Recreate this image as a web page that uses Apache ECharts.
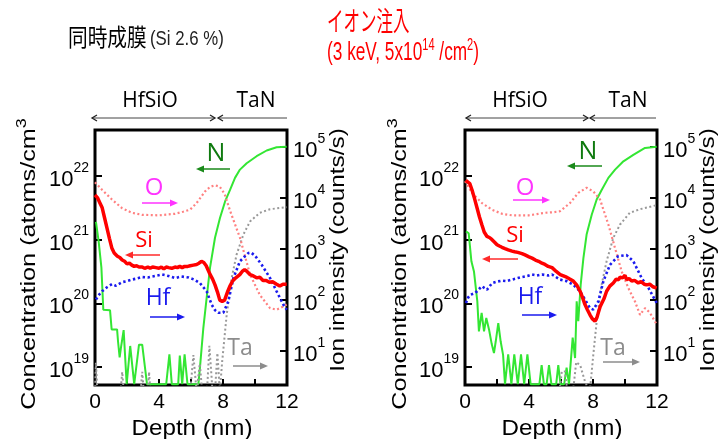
<!DOCTYPE html>
<html><head><meta charset="utf-8">
<script src="https://cdn.jsdelivr.net/npm/echarts@6/dist/echarts.min.js"></script>
<style>html,body{margin:0;padding:0;background:#fff}#c{width:720px;height:439px}</style>
</head><body><div id="c"></div>
<script>
// ---------- tick labels ----------
const depthLabels = [0, 4, 8, 12];              // nm
const depthTickMarks = [2, 4, 6, 8, 10];
const concExponents = [19, 20, 21, 22];          // log10(atoms/cm^3)
const ionExponents = [1, 2, 3, 4, 5];            // log10(counts/s)

// ---------- LEFT panel (同時成膜) : [depth nm, log10 value] ----------
const siLeft = [[0.0,21.70],[0.15,21.66],[0.3,21.58],[0.45,21.50],[0.6,21.34],[0.75,21.18],[0.9,21.02],[1.05,20.87],[1.2,20.79],[1.4,20.74],[1.55,20.72],[1.7,20.68],[1.85,20.66],[2.0,20.62],[2.15,20.63],[2.3,20.60],[2.45,20.58],[2.6,20.59],[2.75,20.57],[2.95,20.57],[3.1,20.55],[3.3,20.57],[3.45,20.55],[3.6,20.57],[3.8,20.56],[4.0,20.55],[4.15,20.57],[4.3,20.54],[4.45,20.57],[4.6,20.56],[4.8,20.55],[5.0,20.57],[5.15,20.56],[5.3,20.58],[5.45,20.56],[5.6,20.58],[5.8,20.58],[5.95,20.59],[6.15,20.60],[6.35,20.61],[6.5,20.63],[6.65,20.66],[6.8,20.64],[6.95,20.59],[7.2,20.45],[7.35,20.38],[7.5,20.29],[7.65,20.18],[7.8,20.05],[7.95,20.03],[8.1,20.05],[8.2,20.12],[8.3,20.19],[8.45,20.28],[8.6,20.35],[8.8,20.40],[9.05,20.45],[9.2,20.50],[9.35,20.53],[9.5,20.50],[9.7,20.45],[9.9,20.43],[10.1,20.40],[10.3,20.41],[10.5,20.36],[10.7,20.36],[10.9,20.33],[11.1,20.34],[11.35,20.30],[11.55,20.27],[11.75,20.30],[11.98,20.30]];
const nLeft = [[0.06,21.28],[0.23,20.97],[0.4,20.56],[0.52,19.90],[0.94,19.89],[1.04,19.59],[1.38,19.59],[1.44,19.40],[1.54,19.15],[1.62,19.30],[1.79,19.58],[1.98,18.73],[2.2,19.33],[2.45,18.73],[2.75,19.35],[2.95,19.35],[3.25,18.73],[4.45,18.73],[4.65,19.20],[4.8,18.73],[5.2,18.73],[5.3,19.18],[5.45,18.73],[5.6,19.20],[5.78,18.73],[6.46,18.73],[6.56,18.99],[6.77,19.61],[6.98,20.09],[7.19,20.56],[7.5,21.03],[7.81,21.34],[8.13,21.60],[8.44,21.78],[8.75,21.97],[9.06,22.10],[9.48,22.20],[10.1,22.31],[10.73,22.40],[11.35,22.45],[11.98,22.46]];
const oLeft = [[0.0,4.31],[0.06,4.29],[0.44,4.16],[1.06,3.97],[1.69,3.80],[2.31,3.71],[2.94,3.67],[3.98,3.66],[5.0,3.69],[5.5,3.73],[5.94,3.77],[6.35,3.90],[6.88,4.13],[7.2,4.22],[7.5,4.25],[7.8,4.22],[8.1,4.08],[8.44,3.75],[9.06,3.22],[9.69,2.50],[10.3,2.10],[10.94,1.84],[11.35,1.81],[11.7,1.86],[11.98,1.91]];
const hfLeft = [[0.06,2.01],[0.25,2.10],[0.44,2.17],[0.75,2.25],[1.06,2.31],[1.3,2.28],[1.69,2.35],[2.0,2.37],[2.31,2.40],[2.6,2.42],[2.94,2.45],[3.3,2.44],[3.56,2.46],[3.9,2.48],[4.19,2.50],[4.6,2.47],[5.0,2.43],[5.4,2.46],[5.85,2.44],[6.2,2.40],[6.56,2.33],[6.98,2.17],[7.29,1.91],[7.5,1.80],[7.71,1.75],[8.02,1.75],[8.33,1.97],[8.65,2.43],[9.06,2.76],[9.58,2.92],[9.75,2.93],[10.0,2.87],[10.42,2.69],[10.94,2.43],[11.35,2.17],[11.77,1.91],[11.98,1.81]];
const taLeft = [[0.0,0.2],[0.06,0.77],[0.15,0.2],[1.6,0.2],[1.7,0.59],[1.8,0.2],[2.85,0.2],[2.95,0.59],[3.05,0.2],[3.3,0.2],[3.38,0.59],[3.46,0.2],[5.95,0.2],[6.15,0.92],[6.35,0.2],[6.55,0.75],[6.7,0.2],[7.0,0.2],[7.15,1.10],[7.35,0.2],[7.5,0.2],[7.65,0.96],[7.8,0.2],[7.95,0.80],[8.23,1.71],[8.54,2.43],[8.85,2.89],[9.27,3.28],[9.69,3.54],[10.3,3.71],[10.94,3.78],[11.98,3.82]];

// ---------- RIGHT panel (イオン注入) ----------
const siRight = [[0.05,21.93],[0.15,21.96],[0.3,21.88],[0.44,21.78],[0.6,21.64],[0.75,21.50],[0.9,21.36],[1.06,21.23],[1.2,21.12],[1.375,21.05],[1.55,21.03],[1.69,21.00],[1.85,20.96],[2.0,20.92],[2.15,20.90],[2.31,20.88],[2.5,20.86],[2.7,20.84],[2.94,20.82],[3.1,20.81],[3.3,20.80],[3.56,20.78],[3.75,20.76],[4.0,20.73],[4.19,20.71],[4.4,20.68],[4.6,20.66],[4.81,20.63],[5.0,20.61],[5.2,20.58],[5.44,20.56],[5.7,20.50],[5.95,20.45],[6.15,20.43],[6.35,20.41],[6.55,20.38],[6.77,20.35],[7.0,20.28],[7.19,20.19],[7.35,20.09],[7.5,19.98],[7.65,19.90],[7.81,19.82],[7.95,19.76],[8.125,19.72],[8.25,19.78],[8.33,19.85],[8.45,19.95],[8.54,19.98],[8.7,20.08],[8.85,20.19],[9.05,20.27],[9.27,20.32],[9.45,20.38],[9.6,20.37],[9.69,20.41],[9.85,20.40],[10.0,20.44],[10.1,20.37],[10.25,20.39],[10.42,20.35],[10.6,20.36],[10.83,20.32],[11.0,20.34],[11.2,20.30],[11.35,20.29],[11.55,20.30],[11.75,20.26],[11.98,20.24]];
const nRight = [[0.06,21.13],[0.23,21.10],[0.4,20.66],[0.56,20.50],[0.77,20.03],[0.87,19.56],[1.04,19.85],[1.19,19.56],[1.33,19.77],[1.5,19.59],[1.67,19.36],[1.81,19.22],[1.92,19.40],[2.08,19.69],[2.23,19.40],[2.38,19.19],[2.5,18.73],[2.7,19.20],[2.9,18.73],[3.08,19.20],[3.3,18.73],[3.5,19.20],[3.7,18.73],[3.9,19.20],[4.1,18.73],[4.65,18.73],[4.79,19.03],[4.93,18.73],[5.1,18.73],[5.25,19.03],[5.4,18.73],[5.7,18.73],[5.83,19.03],[5.97,18.73],[6.2,18.73],[6.35,18.99],[6.5,18.73],[6.6,18.73],[6.73,19.46],[6.88,19.14],[6.98,20.03],[7.08,19.72],[7.23,20.29],[7.4,20.71],[7.6,21.08],[7.92,21.39],[8.23,21.63],[8.54,21.78],[8.96,21.97],[9.38,22.10],[9.9,22.23],[10.52,22.33],[11.25,22.44],[11.98,22.46]];
const oRight = [[0.0,4.33],[0.06,4.33],[0.44,4.10],[1.06,3.90],[1.69,3.77],[2.31,3.69],[2.94,3.66],[3.98,3.66],[5.02,3.71],[5.5,3.72],[5.94,3.74],[6.56,3.90],[7.08,4.10],[7.6,4.20],[8.02,4.13],[8.44,3.97],[8.96,3.48],[9.375,3.02],[9.79,2.56],[10.2,2.24],[10.625,1.97],[10.94,1.71],[11.25,1.84],[11.56,1.75],[11.98,1.52]];
const hfRight = [[0.06,1.94],[0.2,2.05],[0.33,2.10],[0.65,2.14],[0.9,2.22],[1.06,2.27],[1.375,2.20],[1.69,2.33],[2.0,2.36],[2.31,2.38],[2.6,2.37],[2.94,2.40],[3.3,2.43],[3.56,2.45],[3.9,2.47],[4.19,2.50],[4.5,2.48],[4.81,2.50],[5.2,2.48],[5.44,2.50],[5.94,2.40],[6.35,2.37],[6.77,2.30],[7.19,2.17],[7.5,2.01],[7.81,1.84],[8.02,1.81],[8.33,1.97],[8.65,2.37],[9.06,2.69],[9.58,2.86],[10.1,2.88],[10.52,2.76],[11.04,2.43],[11.46,2.24],[11.98,1.94]];
const taRight = [[0.0,0.2],[5.9,0.2],[6.05,0.60],[6.25,0.60],[6.4,0.2],[6.75,0.2],[6.95,0.78],[7.2,0.72],[7.5,0.40],[7.8,0.2],[8.02,0.93],[8.23,1.58],[8.54,2.30],[8.85,2.76],[9.27,3.22],[9.69,3.48],[10.3,3.71],[10.94,3.78],[11.98,3.86]];

// ---------- layout ----------
const FONT = 'Liberation Sans';
const LBL = 'Open Sans';
const grids = [{left: 95}, {left: 465}];
const concRange = [18.717, 22.722];
const ionRange = [0.333, 5.333];

const chart = echarts.init(document.getElementById('c'), null, {renderer: 'canvas'});

function mkX(gi) {
  return {type: 'value', gridIndex: gi, min: 0, max: 12,
    axisLine: {show: false}, splitLine: {show: false},
    axisTick: {show: true, inside: true, length: 6, customValues: depthTickMarks, lineStyle: {color: '#000', width: 2}},
    axisLabel: {customValues: depthLabels, fontSize: 21, color: '#000', fontFamily: FONT, margin: 7}};
}
function supRich() {
  return {b: {fontSize: 22, fontFamily: FONT, color: '#000', lineHeight: 30, verticalAlign: 'bottom'},
          s: {fontSize: 14, fontFamily: FONT, color: '#000', lineHeight: 12, verticalAlign: 'top'}};
}
function mkY(gi, pos, range, ticks) {
  return {type: 'value', gridIndex: gi, position: pos, min: range[0], max: range[1],
    axisLine: {show: false}, splitLine: {show: false},
    axisTick: {show: true, inside: true, length: 7, customValues: ticks, lineStyle: {color: '#000', width: 2}},
    axisLabel: {customValues: ticks, margin: 6,
      formatter: v => '{b|10}{s|' + Math.round(v) + '}', rich: supRich()}};
}
function line(data, xi, yi, color, width, type, z) {
  return {type: 'line', data: data, xAxisIndex: xi, yAxisIndex: yi, showSymbol: false, symbol: 'none',
    clip: true, animation: false, z: z, lineStyle: {color: color, width: width, type: type}};
}

// annotation helpers
const G = [];
function txt(x, y, text, opts) {
  G.push(Object.assign({type: 'text', x: x, y: y, z: 100,
    style: Object.assign({text: text, align: 'center', verticalAlign: 'middle', fill: '#000', fontSize: 21, fontFamily: LBL}, opts.style || {})},
    opts.el || {}));
}
function dataArrow(x1, x2, y, color) {
  const dir = x2 > x1 ? 1 : -1;
  G.push({type: 'line', z: 100, shape: {x1: x1, y1: y, x2: x2 - dir * 5, y2: y}, style: {stroke: color, lineWidth: 1.5}});
  G.push({type: 'polygon', z: 100, shape: {points: [[x2, y], [x2 - dir * 8, y - 3.5], [x2 - dir * 8, y + 3.5]]}, style: {fill: color}});
}
function headerArrow(x1, x2, y, headL, headR) {
  G.push({type: 'line', z: 100, shape: {x1: x1, y1: y, x2: x2, y2: y}, style: {stroke: '#444', lineWidth: 1}});
  if (headL) G.push({type: 'polyline', z: 100, shape: {points: [[x1 + 5, y - 3], [x1, y], [x1 + 5, y + 3]]}, style: {stroke: '#222', lineWidth: 1.3, fill: null}});
  if (headR) G.push({type: 'polyline', z: 100, shape: {points: [[x2 - 5, y - 3], [x2, y], [x2 - 5, y + 3]]}, style: {stroke: '#222', lineWidth: 1.3, fill: null}});
}

// titles
txt(68, 37, '同時成膜', {style: {align: 'left', fontSize: 24, fontFamily: 'Noto Sans CJK JP'}, el: {scaleX: 0.82}});
txt(150, 39, '(Si 2.6 %)', {style: {align: 'left', fontSize: 21, fontFamily: FONT, fill: '#222'}, el: {scaleX: 0.8}});
txt(327, 21, 'イオン注入', {style: {align: 'left', fontSize: 27, fontFamily: 'Noto Sans CJK JP', fill: '#ff0000'}, el: {scaleX: 0.61}});
txt(327, 52, '{a|(3 keV, 5x10}{s|14}{a| /cm}{s|2}{a|)}', {style: {align: 'left', fill: '#ff0000',
  rich: {a: {fontSize: 25, fontFamily: FONT, color: '#ff0000', lineHeight: 28, verticalAlign: 'bottom'},
         s: {fontSize: 16, fontFamily: FONT, color: '#ff0000', lineHeight: 18, verticalAlign: 'top'}}}, el: {scaleX: 0.69}});

const panels = [
  {N: [216, 154, 230, 196], O: [154, 188, 142, 178], Si: [144, 241, 160, 125], Hf: [158, 298, 150, 185], Ta: [240, 348, 233, 268],
   nArrY: 169, oArrY: 203, siArrY: 255, hfArrY: 317, taArrY: 366,
   hfsio: 150, tan: 256, a1: [92, 215], a2: [218, 287], conc: 27, ion: 338, depth: 192},
  {N: [588, 152, 602, 567], O: [525, 188, 513, 550], Si: [515, 236, 518, 482], Hf: [530, 297, 522, 557], Ta: [613, 348, 603, 640],
   nArrY: 166, oArrY: 200, siArrY: 259, hfArrY: 315, taArrY: 362,
   hfsio: 520, tan: 628, a1: [466, 588], a2: [590, 656], conc: 398, ion: 708, depth: 562}
];
panels.forEach(p => {
  txt(p.hfsio, 101, 'HfSiO', {style: {fontSize: 21}});
  txt(p.tan, 101, 'TaN', {style: {fontSize: 21}});
  headerArrow(p.a1[0], p.a1[1], 118, true, true);
  headerArrow(p.a2[0], p.a2[1], 118, true, false);
  txt(p.N[0], p.N[1], 'N', {style: {fontSize: 25, fill: '#0f7a0f'}});
  dataArrow(p.N[2], p.N[3], p.nArrY, '#1a8a1a');
  txt(p.O[0], p.O[1], 'O', {style: {fontSize: 24, fill: '#ff33ff'}});
  dataArrow(p.O[2], p.O[3], p.oArrY, '#ff33ff');
  txt(p.Si[0], p.Si[1], 'Si', {style: {fontSize: 22, fill: '#ff0000'}});
  dataArrow(p.Si[2], p.Si[3], p.siArrY, '#ff2a2a');
  txt(p.Hf[0], p.Hf[1], 'Hf', {style: {fontSize: 23, fill: '#1a1aee'}});
  dataArrow(p.Hf[2], p.Hf[3], p.hfArrY, '#1a1aee');
  txt(p.Ta[0], p.Ta[1], 'Ta', {style: {fontSize: 23, fill: '#8c8c8c'}});
  dataArrow(p.Ta[2], p.Ta[3], p.taArrY, '#8c8c8c');
  txt(p.conc, 264, '{a|Concentration (atoms/cm}{s|3}', {el: {rotation: Math.PI / 2, scaleX: 1.2},
    style: {rich: {a: {fontSize: 21, fontFamily: FONT, color: '#000', lineHeight: 26, verticalAlign: 'bottom'},
                   s: {fontSize: 15, fontFamily: FONT, color: '#000', lineHeight: 14, verticalAlign: 'top'}}}});
  txt(p.ion, 250, 'Ion intensity (counts/s)', {el: {rotation: Math.PI / 2, scaleX: 1.16}, style: {fontSize: 21, fontFamily: FONT}});
  txt(p.depth, 429, 'Depth (nm)', {el: {scaleX: 1.1}, style: {fontSize: 22, fontFamily: FONT}});
});

const option = {
  backgroundColor: '#fff',
  animation: false,
  textStyle: {fontFamily: FONT},
  grid: grids.map(g => ({left: g.left, top: 130, width: 192, height: 255, show: true, borderColor: '#000', borderWidth: 3,
    backgroundColor: 'transparent', containLabel: false, outerBoundsMode: 'none'})),
  xAxis: [mkX(0), mkX(1)],
  yAxis: [mkY(0, 'left', concRange, concExponents), mkY(0, 'right', ionRange, ionExponents),
          mkY(1, 'left', concRange, concExponents), mkY(1, 'right', ionRange, ionExponents)],
  series: [
    line(nLeft, 0, 0, '#33e633', 2, 'solid', 2),
    line(taLeft, 0, 1, '#999999', 2, [2, 2.5], 3),
    line(oLeft, 0, 1, '#ff8080', 2.2, [2, 2.5], 4),
    line(hfLeft, 0, 1, '#1a1aee', 2.6, [2.4, 2.6], 5),
    line(siLeft, 0, 0, '#ff0000', 3.5, 'solid', 6),
    line(nRight, 1, 2, '#33e633', 2, 'solid', 2),
    line(taRight, 1, 3, '#999999', 2, [2, 2.5], 3),
    line(oRight, 1, 3, '#ff8080', 2.2, [2, 2.5], 4),
    line(hfRight, 1, 3, '#1a1aee', 2.6, [2.4, 2.6], 5),
    line(siRight, 1, 2, '#ff0000', 3.5, 'solid', 6)
  ],
  graphic: G
};
chart.setOption(option);
</script></body></html>
